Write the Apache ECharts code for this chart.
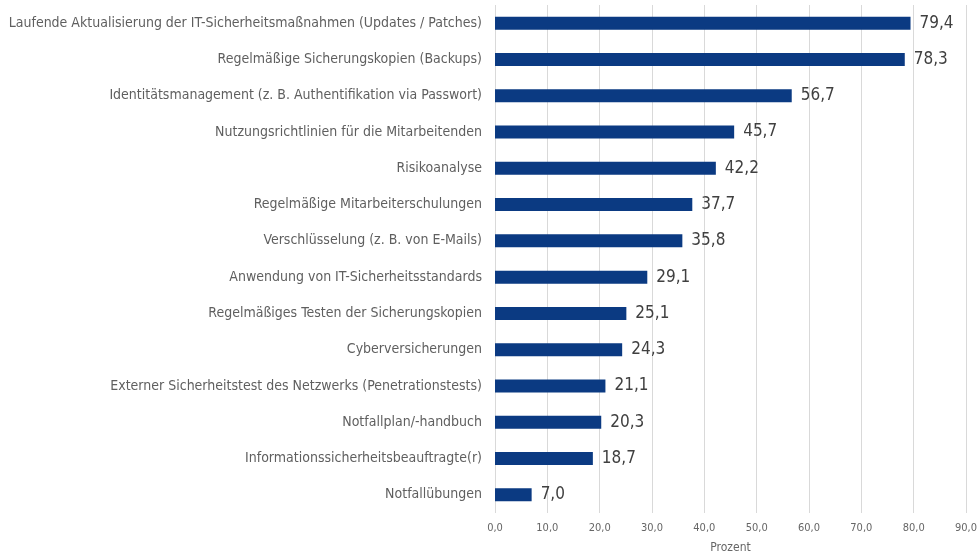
<!DOCTYPE html>
<html><head><meta charset="utf-8">
<script src="https://cdn.jsdelivr.net/npm/echarts@6/dist/echarts.min.js"></script>
<style>html,body{margin:0;padding:0;background:#fff}#c{width:978px;height:554px}</style>
</head><body><div id="c"></div>
<script>
const categories = [
  "Laufende Aktualisierung der IT-Sicherheitsmaßnahmen (Updates / Patches)",
  "Regelmäßige Sicherungskopien (Backups)",
  "Identitätsmanagement (z. B. Authentifikation via Passwort)",
  "Nutzungsrichtlinien für die Mitarbeitenden",
  "Risikoanalyse",
  "Regelmäßige Mitarbeiterschulungen",
  "Verschlüsselung (z. B. von E-Mails)",
  "Anwendung von IT-Sicherheitsstandards",
  "Regelmäßiges Testen der Sicherungskopien",
  "Cyberversicherungen",
  "Externer Sicherheitstest des Netzwerks (Penetrationstests)",
  "Notfallplan/-handbuch",
  "Informationssicherheitsbeauftragte(r)",
  "Notfallübungen"
];
const values = [79.4, 78.3, 56.7, 45.7, 42.2, 37.7, 35.8, 29.1, 25.1, 24.3, 21.1, 20.3, 18.7, 7.0];
const axisName = "Prozent";

const fmt = v => v.toFixed(1).replace('.', ',');
const chart = echarts.init(document.getElementById('c'));
chart.setOption({
  animation: false,
  textStyle: { fontFamily: "'DejaVu Sans Condensed', 'Liberation Sans Narrow', 'Noto Sans', sans-serif" },
  grid: { left: 495, right: 12, top: 5, bottom: 41, containLabel: false, outerBoundsMode: 'none' },
  xAxis: {
    type: 'value', min: 0, max: 90, interval: 10,
    name: axisName, nameLocation: 'middle', nameGap: 29,
    nameTextStyle: { color: '#666666', fontSize: 12 },
    axisLine: { show: false }, axisTick: { show: false },
    axisLabel: { color: '#666666', fontSize: 11, formatter: v => fmt(v), margin: 10 },
    splitLine: { show: true, lineStyle: { color: '#d9d9d9', width: 1 } }
  },
  yAxis: {
    type: 'category', data: categories, inverse: true,
    axisLine: { show: false }, axisTick: { show: false },
    axisLabel: { color: '#5f5f5f', fontSize: 14, margin: 13 }
  },
  series: [{
    type: 'bar', data: values, barWidth: 13,
    itemStyle: { color: '#0b3a82' },
    label: { show: true, position: 'right', distance: 9, color: '#404040', fontSize: 17, formatter: p => fmt(p.value) }
  }]
});
</script></body></html>
